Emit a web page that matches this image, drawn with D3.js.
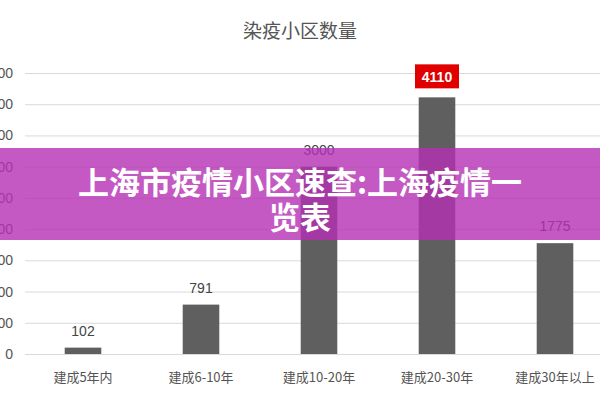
<!DOCTYPE html><html><head><meta charset="utf-8"><script src="https://cdn.jsdelivr.net/npm/d3@7"></script>
<style>body{margin:0;background:#fff}</style></head><body><svg id="c" width="600" height="400"></svg><script>
const categories=["建成5年内","建成6-10年","建成10-20年","建成20-30年","建成30年以上"];
const values=[102,791,3000,4110,1775];
const yTicks=[0,500,1000,1500,2000,2500,3000,3500,4000,4500];
const title="染疫小区数量";
const overlayText=["上海市疫情小区速查:上海疫情一","览表"];
const svg=d3.select("#c");
const x=d3.scaleBand().domain(categories).range([24,614]).paddingInner(0.69).paddingOuter(0.345);
const y=d3.scaleLinear().domain([0,4500]).range([354,73]);
svg.append("text").attr("x",300).attr("y",38).attr("text-anchor","middle").attr("font-family","Noto Sans CJK SC").attr("font-size",19).attr("fill","#555").text(title);
const ya=svg.append("g").attr("transform","translate(25,0)").call(d3.axisLeft(y).tickValues(yTicks).tickSize(-590).tickFormat(d=>d));
ya.select(".domain").remove();
ya.selectAll("line").attr("stroke","#d9d9d9");
ya.selectAll("text").attr("x",-12).attr("font-family","Liberation Sans").attr("font-size",14).attr("fill","#555");
svg.selectAll("rect.b").data(values).enter().append("rect").attr("x",(d,i)=>x(categories[i])).attr("width",x.bandwidth()).attr("y",d=>y(d)).attr("height",d=>354-y(d)).attr("fill","#5f5f5f");
values.forEach((v,i)=>{const cx=x(categories[i])+x.bandwidth()/2;
 if(v===d3.max(values)){svg.append("rect").attr("x",cx-22).attr("y",y(v)-33).attr("width",44).attr("height",24).attr("fill","#e00000");
  svg.append("text").attr("x",cx).attr("y",y(v)-15).attr("text-anchor","middle").attr("font-family","Liberation Sans").attr("font-weight","bold").attr("font-size",14).attr("fill","#fff").text(v);}
 else svg.append("text").attr("x",cx).attr("y",y(v)-12).attr("text-anchor","middle").attr("font-family","Liberation Sans").attr("font-size",14).attr("fill","#444").text(v);});
svg.selectAll("text.xl").data(categories).enter().append("text").attr("x",d=>x(d)+x.bandwidth()/2).attr("y",382).attr("text-anchor","middle").attr("font-family","Noto Sans CJK SC").attr("font-size",13).attr("fill","#555").text(d=>d);
svg.append("rect").attr("x",0).attr("y",148).attr("width",600).attr("height",92).attr("fill","#b530b5").attr("opacity",0.8);
overlayText.forEach((t,i)=>svg.append("text").attr("x",300).attr("y",194+i*35).attr("text-anchor","middle").attr("font-family","Noto Sans CJK SC").attr("font-weight","bold").attr("font-size",31).attr("fill","#fff").text(t));
</script></body></html>
